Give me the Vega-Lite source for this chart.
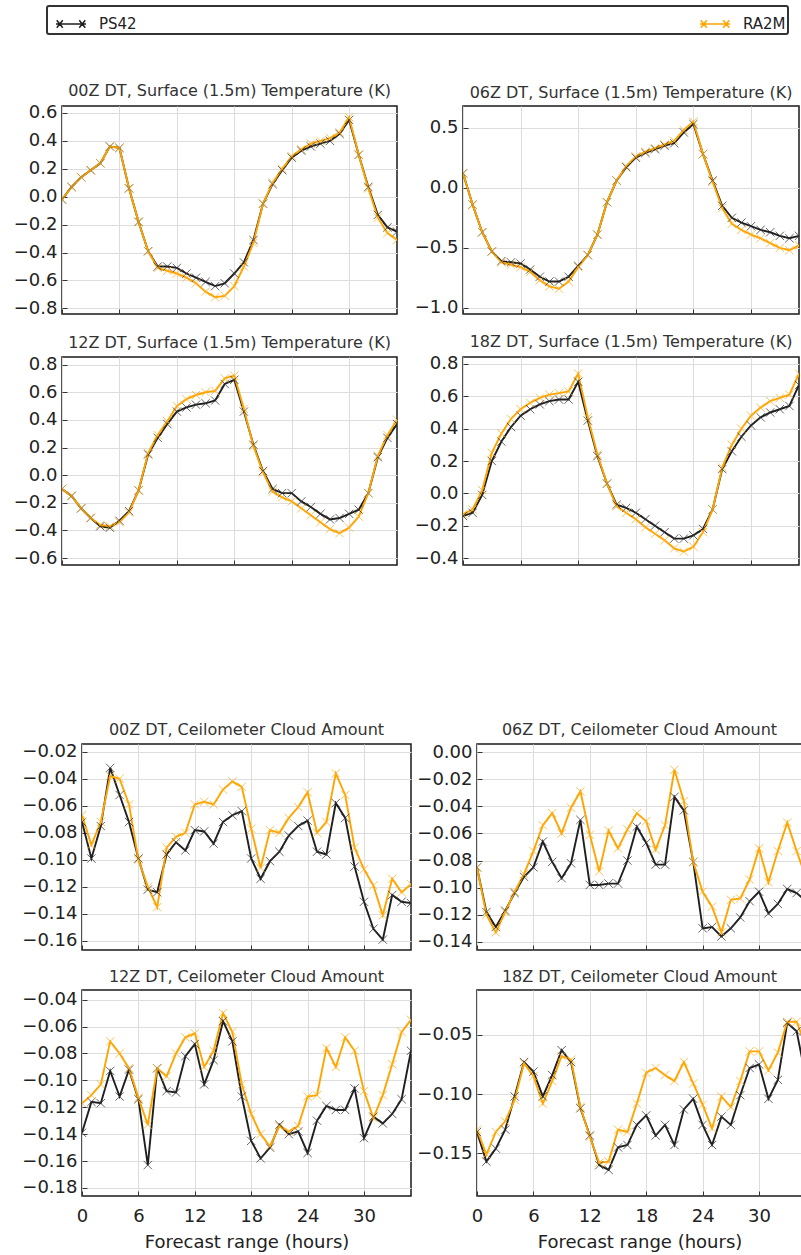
{
"$schema":"https://vega.github.io/schema/vega-lite/v6.json",
"padding":{"left":12,"top":5,"right":0,"bottom":0},
"background":"white",
"data":{"values":[
{"p":"T00","m":"PS42","h":0,"v":-0.02},{"p":"T00","m":"PS42","h":1,"v":0.07},{"p":"T00","m":"PS42","h":2,"v":0.14},{"p":"T00","m":"PS42","h":3,"v":0.19},{"p":"T00","m":"PS42","h":4,"v":0.24},{"p":"T00","m":"PS42","h":5,"v":0.36},{"p":"T00","m":"PS42","h":6,"v":0.35},{"p":"T00","m":"PS42","h":7,"v":0.06},{"p":"T00","m":"PS42","h":8,"v":-0.18},{"p":"T00","m":"PS42","h":9,"v":-0.39},{"p":"T00","m":"PS42","h":10,"v":-0.50},{"p":"T00","m":"PS42","h":11,"v":-0.50},{"p":"T00","m":"PS42","h":12,"v":-0.51},{"p":"T00","m":"PS42","h":13,"v":-0.55},{"p":"T00","m":"PS42","h":14,"v":-0.58},{"p":"T00","m":"PS42","h":15,"v":-0.61},{"p":"T00","m":"PS42","h":16,"v":-0.64},{"p":"T00","m":"PS42","h":17,"v":-0.62},{"p":"T00","m":"PS42","h":18,"v":-0.55},{"p":"T00","m":"PS42","h":19,"v":-0.47},{"p":"T00","m":"PS42","h":20,"v":-0.31},{"p":"T00","m":"PS42","h":21,"v":-0.05},{"p":"T00","m":"PS42","h":22,"v":0.09},{"p":"T00","m":"PS42","h":23,"v":0.19},{"p":"T00","m":"PS42","h":24,"v":0.28},{"p":"T00","m":"PS42","h":25,"v":0.33},{"p":"T00","m":"PS42","h":26,"v":0.36},{"p":"T00","m":"PS42","h":27,"v":0.38},{"p":"T00","m":"PS42","h":28,"v":0.40},{"p":"T00","m":"PS42","h":29,"v":0.45},{"p":"T00","m":"PS42","h":30,"v":0.55},{"p":"T00","m":"PS42","h":31,"v":0.30},{"p":"T00","m":"PS42","h":32,"v":0.07},{"p":"T00","m":"PS42","h":33,"v":-0.13},{"p":"T00","m":"PS42","h":34,"v":-0.22},{"p":"T00","m":"PS42","h":35,"v":-0.25},
{"p":"T00","m":"RA2M","h":0,"v":-0.02},{"p":"T00","m":"RA2M","h":1,"v":0.07},{"p":"T00","m":"RA2M","h":2,"v":0.14},{"p":"T00","m":"RA2M","h":3,"v":0.19},{"p":"T00","m":"RA2M","h":4,"v":0.24},{"p":"T00","m":"RA2M","h":5,"v":0.36},{"p":"T00","m":"RA2M","h":6,"v":0.35},{"p":"T00","m":"RA2M","h":7,"v":0.06},{"p":"T00","m":"RA2M","h":8,"v":-0.18},{"p":"T00","m":"RA2M","h":9,"v":-0.39},{"p":"T00","m":"RA2M","h":10,"v":-0.51},{"p":"T00","m":"RA2M","h":11,"v":-0.53},{"p":"T00","m":"RA2M","h":12,"v":-0.55},{"p":"T00","m":"RA2M","h":13,"v":-0.58},{"p":"T00","m":"RA2M","h":14,"v":-0.62},{"p":"T00","m":"RA2M","h":15,"v":-0.68},{"p":"T00","m":"RA2M","h":16,"v":-0.72},{"p":"T00","m":"RA2M","h":17,"v":-0.71},{"p":"T00","m":"RA2M","h":18,"v":-0.64},{"p":"T00","m":"RA2M","h":19,"v":-0.50},{"p":"T00","m":"RA2M","h":20,"v":-0.33},{"p":"T00","m":"RA2M","h":21,"v":-0.05},{"p":"T00","m":"RA2M","h":22,"v":0.10},{"p":"T00","m":"RA2M","h":23,"v":0.20},{"p":"T00","m":"RA2M","h":24,"v":0.29},{"p":"T00","m":"RA2M","h":25,"v":0.34},{"p":"T00","m":"RA2M","h":26,"v":0.38},{"p":"T00","m":"RA2M","h":27,"v":0.40},{"p":"T00","m":"RA2M","h":28,"v":0.42},{"p":"T00","m":"RA2M","h":29,"v":0.46},{"p":"T00","m":"RA2M","h":30,"v":0.57},{"p":"T00","m":"RA2M","h":31,"v":0.30},{"p":"T00","m":"RA2M","h":32,"v":0.06},{"p":"T00","m":"RA2M","h":33,"v":-0.15},{"p":"T00","m":"RA2M","h":34,"v":-0.26},{"p":"T00","m":"RA2M","h":35,"v":-0.31},
{"p":"T06","m":"PS42","h":0,"v":0.12},{"p":"T06","m":"PS42","h":1,"v":-0.14},{"p":"T06","m":"PS42","h":2,"v":-0.37},{"p":"T06","m":"PS42","h":3,"v":-0.53},{"p":"T06","m":"PS42","h":4,"v":-0.61},{"p":"T06","m":"PS42","h":5,"v":-0.62},{"p":"T06","m":"PS42","h":6,"v":-0.63},{"p":"T06","m":"PS42","h":7,"v":-0.68},{"p":"T06","m":"PS42","h":8,"v":-0.74},{"p":"T06","m":"PS42","h":9,"v":-0.78},{"p":"T06","m":"PS42","h":10,"v":-0.78},{"p":"T06","m":"PS42","h":11,"v":-0.74},{"p":"T06","m":"PS42","h":12,"v":-0.65},{"p":"T06","m":"PS42","h":13,"v":-0.56},{"p":"T06","m":"PS42","h":14,"v":-0.39},{"p":"T06","m":"PS42","h":15,"v":-0.12},{"p":"T06","m":"PS42","h":16,"v":0.06},{"p":"T06","m":"PS42","h":17,"v":0.17},{"p":"T06","m":"PS42","h":18,"v":0.25},{"p":"T06","m":"PS42","h":19,"v":0.29},{"p":"T06","m":"PS42","h":20,"v":0.32},{"p":"T06","m":"PS42","h":21,"v":0.35},{"p":"T06","m":"PS42","h":22,"v":0.37},{"p":"T06","m":"PS42","h":23,"v":0.46},{"p":"T06","m":"PS42","h":24,"v":0.53},{"p":"T06","m":"PS42","h":25,"v":0.28},{"p":"T06","m":"PS42","h":26,"v":0.06},{"p":"T06","m":"PS42","h":27,"v":-0.15},{"p":"T06","m":"PS42","h":28,"v":-0.25},{"p":"T06","m":"PS42","h":29,"v":-0.29},{"p":"T06","m":"PS42","h":30,"v":-0.32},{"p":"T06","m":"PS42","h":31,"v":-0.35},{"p":"T06","m":"PS42","h":32,"v":-0.37},{"p":"T06","m":"PS42","h":33,"v":-0.40},{"p":"T06","m":"PS42","h":34,"v":-0.42},{"p":"T06","m":"PS42","h":35,"v":-0.40},
{"p":"T06","m":"RA2M","h":0,"v":0.12},{"p":"T06","m":"RA2M","h":1,"v":-0.14},{"p":"T06","m":"RA2M","h":2,"v":-0.37},{"p":"T06","m":"RA2M","h":3,"v":-0.53},{"p":"T06","m":"RA2M","h":4,"v":-0.62},{"p":"T06","m":"RA2M","h":5,"v":-0.64},{"p":"T06","m":"RA2M","h":6,"v":-0.66},{"p":"T06","m":"RA2M","h":7,"v":-0.70},{"p":"T06","m":"RA2M","h":8,"v":-0.77},{"p":"T06","m":"RA2M","h":9,"v":-0.82},{"p":"T06","m":"RA2M","h":10,"v":-0.84},{"p":"T06","m":"RA2M","h":11,"v":-0.78},{"p":"T06","m":"RA2M","h":12,"v":-0.66},{"p":"T06","m":"RA2M","h":13,"v":-0.56},{"p":"T06","m":"RA2M","h":14,"v":-0.39},{"p":"T06","m":"RA2M","h":15,"v":-0.12},{"p":"T06","m":"RA2M","h":16,"v":0.06},{"p":"T06","m":"RA2M","h":17,"v":0.18},{"p":"T06","m":"RA2M","h":18,"v":0.26},{"p":"T06","m":"RA2M","h":19,"v":0.30},{"p":"T06","m":"RA2M","h":20,"v":0.33},{"p":"T06","m":"RA2M","h":21,"v":0.36},{"p":"T06","m":"RA2M","h":22,"v":0.39},{"p":"T06","m":"RA2M","h":23,"v":0.48},{"p":"T06","m":"RA2M","h":24,"v":0.55},{"p":"T06","m":"RA2M","h":25,"v":0.28},{"p":"T06","m":"RA2M","h":26,"v":0.05},{"p":"T06","m":"RA2M","h":27,"v":-0.17},{"p":"T06","m":"RA2M","h":28,"v":-0.30},{"p":"T06","m":"RA2M","h":29,"v":-0.35},{"p":"T06","m":"RA2M","h":30,"v":-0.39},{"p":"T06","m":"RA2M","h":31,"v":-0.42},{"p":"T06","m":"RA2M","h":32,"v":-0.46},{"p":"T06","m":"RA2M","h":33,"v":-0.50},{"p":"T06","m":"RA2M","h":34,"v":-0.52},{"p":"T06","m":"RA2M","h":35,"v":-0.48},
{"p":"T12","m":"PS42","h":0,"v":-0.10},{"p":"T12","m":"PS42","h":1,"v":-0.15},{"p":"T12","m":"PS42","h":2,"v":-0.24},{"p":"T12","m":"PS42","h":3,"v":-0.31},{"p":"T12","m":"PS42","h":4,"v":-0.37},{"p":"T12","m":"PS42","h":5,"v":-0.38},{"p":"T12","m":"PS42","h":6,"v":-0.33},{"p":"T12","m":"PS42","h":7,"v":-0.26},{"p":"T12","m":"PS42","h":8,"v":-0.11},{"p":"T12","m":"PS42","h":9,"v":0.15},{"p":"T12","m":"PS42","h":10,"v":0.27},{"p":"T12","m":"PS42","h":11,"v":0.37},{"p":"T12","m":"PS42","h":12,"v":0.46},{"p":"T12","m":"PS42","h":13,"v":0.49},{"p":"T12","m":"PS42","h":14,"v":0.51},{"p":"T12","m":"PS42","h":15,"v":0.52},{"p":"T12","m":"PS42","h":16,"v":0.54},{"p":"T12","m":"PS42","h":17,"v":0.66},{"p":"T12","m":"PS42","h":18,"v":0.69},{"p":"T12","m":"PS42","h":19,"v":0.46},{"p":"T12","m":"PS42","h":20,"v":0.22},{"p":"T12","m":"PS42","h":21,"v":0.03},{"p":"T12","m":"PS42","h":22,"v":-0.10},{"p":"T12","m":"PS42","h":23,"v":-0.13},{"p":"T12","m":"PS42","h":24,"v":-0.13},{"p":"T12","m":"PS42","h":25,"v":-0.19},{"p":"T12","m":"PS42","h":26,"v":-0.23},{"p":"T12","m":"PS42","h":27,"v":-0.28},{"p":"T12","m":"PS42","h":28,"v":-0.32},{"p":"T12","m":"PS42","h":29,"v":-0.31},{"p":"T12","m":"PS42","h":30,"v":-0.28},{"p":"T12","m":"PS42","h":31,"v":-0.25},{"p":"T12","m":"PS42","h":32,"v":-0.13},{"p":"T12","m":"PS42","h":33,"v":0.13},{"p":"T12","m":"PS42","h":34,"v":0.27},{"p":"T12","m":"PS42","h":35,"v":0.37},
{"p":"T12","m":"RA2M","h":0,"v":-0.10},{"p":"T12","m":"RA2M","h":1,"v":-0.15},{"p":"T12","m":"RA2M","h":2,"v":-0.24},{"p":"T12","m":"RA2M","h":3,"v":-0.31},{"p":"T12","m":"RA2M","h":4,"v":-0.36},{"p":"T12","m":"RA2M","h":5,"v":-0.37},{"p":"T12","m":"RA2M","h":6,"v":-0.34},{"p":"T12","m":"RA2M","h":7,"v":-0.27},{"p":"T12","m":"RA2M","h":8,"v":-0.11},{"p":"T12","m":"RA2M","h":9,"v":0.16},{"p":"T12","m":"RA2M","h":10,"v":0.29},{"p":"T12","m":"RA2M","h":11,"v":0.39},{"p":"T12","m":"RA2M","h":12,"v":0.50},{"p":"T12","m":"RA2M","h":13,"v":0.55},{"p":"T12","m":"RA2M","h":14,"v":0.58},{"p":"T12","m":"RA2M","h":15,"v":0.60},{"p":"T12","m":"RA2M","h":16,"v":0.61},{"p":"T12","m":"RA2M","h":17,"v":0.70},{"p":"T12","m":"RA2M","h":18,"v":0.72},{"p":"T12","m":"RA2M","h":19,"v":0.48},{"p":"T12","m":"RA2M","h":20,"v":0.21},{"p":"T12","m":"RA2M","h":21,"v":0.02},{"p":"T12","m":"RA2M","h":22,"v":-0.12},{"p":"T12","m":"RA2M","h":23,"v":-0.16},{"p":"T12","m":"RA2M","h":24,"v":-0.19},{"p":"T12","m":"RA2M","h":25,"v":-0.24},{"p":"T12","m":"RA2M","h":26,"v":-0.29},{"p":"T12","m":"RA2M","h":27,"v":-0.34},{"p":"T12","m":"RA2M","h":28,"v":-0.39},{"p":"T12","m":"RA2M","h":29,"v":-0.42},{"p":"T12","m":"RA2M","h":30,"v":-0.38},{"p":"T12","m":"RA2M","h":31,"v":-0.30},{"p":"T12","m":"RA2M","h":32,"v":-0.13},{"p":"T12","m":"RA2M","h":33,"v":0.14},{"p":"T12","m":"RA2M","h":34,"v":0.29},{"p":"T12","m":"RA2M","h":35,"v":0.40},
{"p":"T18","m":"PS42","h":0,"v":-0.14},{"p":"T18","m":"PS42","h":1,"v":-0.12},{"p":"T18","m":"PS42","h":2,"v":-0.01},{"p":"T18","m":"PS42","h":3,"v":0.20},{"p":"T18","m":"PS42","h":4,"v":0.32},{"p":"T18","m":"PS42","h":5,"v":0.41},{"p":"T18","m":"PS42","h":6,"v":0.48},{"p":"T18","m":"PS42","h":7,"v":0.52},{"p":"T18","m":"PS42","h":8,"v":0.55},{"p":"T18","m":"PS42","h":9,"v":0.57},{"p":"T18","m":"PS42","h":10,"v":0.58},{"p":"T18","m":"PS42","h":11,"v":0.58},{"p":"T18","m":"PS42","h":12,"v":0.69},{"p":"T18","m":"PS42","h":13,"v":0.45},{"p":"T18","m":"PS42","h":14,"v":0.23},{"p":"T18","m":"PS42","h":15,"v":0.06},{"p":"T18","m":"PS42","h":16,"v":-0.07},{"p":"T18","m":"PS42","h":17,"v":-0.09},{"p":"T18","m":"PS42","h":18,"v":-0.12},{"p":"T18","m":"PS42","h":19,"v":-0.16},{"p":"T18","m":"PS42","h":20,"v":-0.20},{"p":"T18","m":"PS42","h":21,"v":-0.24},{"p":"T18","m":"PS42","h":22,"v":-0.28},{"p":"T18","m":"PS42","h":23,"v":-0.28},{"p":"T18","m":"PS42","h":24,"v":-0.26},{"p":"T18","m":"PS42","h":25,"v":-0.22},{"p":"T18","m":"PS42","h":26,"v":-0.10},{"p":"T18","m":"PS42","h":27,"v":0.15},{"p":"T18","m":"PS42","h":28,"v":0.26},{"p":"T18","m":"PS42","h":29,"v":0.35},{"p":"T18","m":"PS42","h":30,"v":0.42},{"p":"T18","m":"PS42","h":31,"v":0.47},{"p":"T18","m":"PS42","h":32,"v":0.50},{"p":"T18","m":"PS42","h":33,"v":0.52},{"p":"T18","m":"PS42","h":34,"v":0.54},{"p":"T18","m":"PS42","h":35,"v":0.67},
{"p":"T18","m":"RA2M","h":0,"v":-0.13},{"p":"T18","m":"RA2M","h":1,"v":-0.10},{"p":"T18","m":"RA2M","h":2,"v":0.02},{"p":"T18","m":"RA2M","h":3,"v":0.25},{"p":"T18","m":"RA2M","h":4,"v":0.37},{"p":"T18","m":"RA2M","h":5,"v":0.46},{"p":"T18","m":"RA2M","h":6,"v":0.52},{"p":"T18","m":"RA2M","h":7,"v":0.56},{"p":"T18","m":"RA2M","h":8,"v":0.59},{"p":"T18","m":"RA2M","h":9,"v":0.61},{"p":"T18","m":"RA2M","h":10,"v":0.62},{"p":"T18","m":"RA2M","h":11,"v":0.63},{"p":"T18","m":"RA2M","h":12,"v":0.74},{"p":"T18","m":"RA2M","h":13,"v":0.47},{"p":"T18","m":"RA2M","h":14,"v":0.24},{"p":"T18","m":"RA2M","h":15,"v":0.06},{"p":"T18","m":"RA2M","h":16,"v":-0.08},{"p":"T18","m":"RA2M","h":17,"v":-0.12},{"p":"T18","m":"RA2M","h":18,"v":-0.16},{"p":"T18","m":"RA2M","h":19,"v":-0.21},{"p":"T18","m":"RA2M","h":20,"v":-0.25},{"p":"T18","m":"RA2M","h":21,"v":-0.29},{"p":"T18","m":"RA2M","h":22,"v":-0.34},{"p":"T18","m":"RA2M","h":23,"v":-0.36},{"p":"T18","m":"RA2M","h":24,"v":-0.33},{"p":"T18","m":"RA2M","h":25,"v":-0.24},{"p":"T18","m":"RA2M","h":26,"v":-0.10},{"p":"T18","m":"RA2M","h":27,"v":0.16},{"p":"T18","m":"RA2M","h":28,"v":0.30},{"p":"T18","m":"RA2M","h":29,"v":0.40},{"p":"T18","m":"RA2M","h":30,"v":0.48},{"p":"T18","m":"RA2M","h":31,"v":0.53},{"p":"T18","m":"RA2M","h":32,"v":0.57},{"p":"T18","m":"RA2M","h":33,"v":0.59},{"p":"T18","m":"RA2M","h":34,"v":0.61},{"p":"T18","m":"RA2M","h":35,"v":0.74},
{"p":"C00","m":"PS42","h":0,"v":-0.072},{"p":"C00","m":"PS42","h":1,"v":-0.099},{"p":"C00","m":"PS42","h":2,"v":-0.075},{"p":"C00","m":"PS42","h":3,"v":-0.032},{"p":"C00","m":"PS42","h":4,"v":-0.052},{"p":"C00","m":"PS42","h":5,"v":-0.072},{"p":"C00","m":"PS42","h":6,"v":-0.099},{"p":"C00","m":"PS42","h":7,"v":-0.122},{"p":"C00","m":"PS42","h":8,"v":-0.124},{"p":"C00","m":"PS42","h":9,"v":-0.096},{"p":"C00","m":"PS42","h":10,"v":-0.087},{"p":"C00","m":"PS42","h":11,"v":-0.093},{"p":"C00","m":"PS42","h":12,"v":-0.078},{"p":"C00","m":"PS42","h":13,"v":-0.079},{"p":"C00","m":"PS42","h":14,"v":-0.088},{"p":"C00","m":"PS42","h":15,"v":-0.072},{"p":"C00","m":"PS42","h":16,"v":-0.067},{"p":"C00","m":"PS42","h":17,"v":-0.064},{"p":"C00","m":"PS42","h":18,"v":-0.099},{"p":"C00","m":"PS42","h":19,"v":-0.114},{"p":"C00","m":"PS42","h":20,"v":-0.101},{"p":"C00","m":"PS42","h":21,"v":-0.094},{"p":"C00","m":"PS42","h":22,"v":-0.082},{"p":"C00","m":"PS42","h":23,"v":-0.075},{"p":"C00","m":"PS42","h":24,"v":-0.071},{"p":"C00","m":"PS42","h":25,"v":-0.094},{"p":"C00","m":"PS42","h":26,"v":-0.096},{"p":"C00","m":"PS42","h":27,"v":-0.058},{"p":"C00","m":"PS42","h":28,"v":-0.069},{"p":"C00","m":"PS42","h":29,"v":-0.105},{"p":"C00","m":"PS42","h":30,"v":-0.131},{"p":"C00","m":"PS42","h":31,"v":-0.151},{"p":"C00","m":"PS42","h":32,"v":-0.159},{"p":"C00","m":"PS42","h":33,"v":-0.126},{"p":"C00","m":"PS42","h":34,"v":-0.131},{"p":"C00","m":"PS42","h":35,"v":-0.132},
{"p":"C00","m":"RA2M","h":0,"v":-0.067},{"p":"C00","m":"RA2M","h":1,"v":-0.089},{"p":"C00","m":"RA2M","h":2,"v":-0.072},{"p":"C00","m":"RA2M","h":3,"v":-0.038},{"p":"C00","m":"RA2M","h":4,"v":-0.040},{"p":"C00","m":"RA2M","h":5,"v":-0.059},{"p":"C00","m":"RA2M","h":6,"v":-0.100},{"p":"C00","m":"RA2M","h":7,"v":-0.120},{"p":"C00","m":"RA2M","h":8,"v":-0.135},{"p":"C00","m":"RA2M","h":9,"v":-0.091},{"p":"C00","m":"RA2M","h":10,"v":-0.083},{"p":"C00","m":"RA2M","h":11,"v":-0.080},{"p":"C00","m":"RA2M","h":12,"v":-0.059},{"p":"C00","m":"RA2M","h":13,"v":-0.057},{"p":"C00","m":"RA2M","h":14,"v":-0.059},{"p":"C00","m":"RA2M","h":15,"v":-0.048},{"p":"C00","m":"RA2M","h":16,"v":-0.042},{"p":"C00","m":"RA2M","h":17,"v":-0.046},{"p":"C00","m":"RA2M","h":18,"v":-0.077},{"p":"C00","m":"RA2M","h":19,"v":-0.106},{"p":"C00","m":"RA2M","h":20,"v":-0.078},{"p":"C00","m":"RA2M","h":21,"v":-0.080},{"p":"C00","m":"RA2M","h":22,"v":-0.069},{"p":"C00","m":"RA2M","h":23,"v":-0.061},{"p":"C00","m":"RA2M","h":24,"v":-0.050},{"p":"C00","m":"RA2M","h":25,"v":-0.080},{"p":"C00","m":"RA2M","h":26,"v":-0.072},{"p":"C00","m":"RA2M","h":27,"v":-0.036},{"p":"C00","m":"RA2M","h":28,"v":-0.052},{"p":"C00","m":"RA2M","h":29,"v":-0.091},{"p":"C00","m":"RA2M","h":30,"v":-0.107},{"p":"C00","m":"RA2M","h":31,"v":-0.119},{"p":"C00","m":"RA2M","h":32,"v":-0.141},{"p":"C00","m":"RA2M","h":33,"v":-0.114},{"p":"C00","m":"RA2M","h":34,"v":-0.124},{"p":"C00","m":"RA2M","h":35,"v":-0.118},
{"p":"C06","m":"PS42","h":0,"v":-0.085},{"p":"C06","m":"PS42","h":1,"v":-0.118},{"p":"C06","m":"PS42","h":2,"v":-0.129},{"p":"C06","m":"PS42","h":3,"v":-0.117},{"p":"C06","m":"PS42","h":4,"v":-0.104},{"p":"C06","m":"PS42","h":5,"v":-0.092},{"p":"C06","m":"PS42","h":6,"v":-0.085},{"p":"C06","m":"PS42","h":7,"v":-0.066},{"p":"C06","m":"PS42","h":8,"v":-0.081},{"p":"C06","m":"PS42","h":9,"v":-0.093},{"p":"C06","m":"PS42","h":10,"v":-0.082},{"p":"C06","m":"PS42","h":11,"v":-0.050},{"p":"C06","m":"PS42","h":12,"v":-0.098},{"p":"C06","m":"PS42","h":13,"v":-0.098},{"p":"C06","m":"PS42","h":14,"v":-0.097},{"p":"C06","m":"PS42","h":15,"v":-0.097},{"p":"C06","m":"PS42","h":16,"v":-0.080},{"p":"C06","m":"PS42","h":17,"v":-0.055},{"p":"C06","m":"PS42","h":18,"v":-0.067},{"p":"C06","m":"PS42","h":19,"v":-0.083},{"p":"C06","m":"PS42","h":20,"v":-0.083},{"p":"C06","m":"PS42","h":21,"v":-0.033},{"p":"C06","m":"PS42","h":22,"v":-0.043},{"p":"C06","m":"PS42","h":23,"v":-0.081},{"p":"C06","m":"PS42","h":24,"v":-0.130},{"p":"C06","m":"PS42","h":25,"v":-0.129},{"p":"C06","m":"PS42","h":26,"v":-0.136},{"p":"C06","m":"PS42","h":27,"v":-0.130},{"p":"C06","m":"PS42","h":28,"v":-0.122},{"p":"C06","m":"PS42","h":29,"v":-0.110},{"p":"C06","m":"PS42","h":30,"v":-0.103},{"p":"C06","m":"PS42","h":31,"v":-0.119},{"p":"C06","m":"PS42","h":32,"v":-0.112},{"p":"C06","m":"PS42","h":33,"v":-0.101},{"p":"C06","m":"PS42","h":34,"v":-0.104},{"p":"C06","m":"PS42","h":35,"v":-0.110},
{"p":"C06","m":"RA2M","h":0,"v":-0.085},{"p":"C06","m":"RA2M","h":1,"v":-0.120},{"p":"C06","m":"RA2M","h":2,"v":-0.133},{"p":"C06","m":"RA2M","h":3,"v":-0.118},{"p":"C06","m":"RA2M","h":4,"v":-0.103},{"p":"C06","m":"RA2M","h":5,"v":-0.090},{"p":"C06","m":"RA2M","h":6,"v":-0.073},{"p":"C06","m":"RA2M","h":7,"v":-0.054},{"p":"C06","m":"RA2M","h":8,"v":-0.045},{"p":"C06","m":"RA2M","h":9,"v":-0.060},{"p":"C06","m":"RA2M","h":10,"v":-0.041},{"p":"C06","m":"RA2M","h":11,"v":-0.029},{"p":"C06","m":"RA2M","h":12,"v":-0.061},{"p":"C06","m":"RA2M","h":13,"v":-0.088},{"p":"C06","m":"RA2M","h":14,"v":-0.058},{"p":"C06","m":"RA2M","h":15,"v":-0.071},{"p":"C06","m":"RA2M","h":16,"v":-0.057},{"p":"C06","m":"RA2M","h":17,"v":-0.045},{"p":"C06","m":"RA2M","h":18,"v":-0.051},{"p":"C06","m":"RA2M","h":19,"v":-0.072},{"p":"C06","m":"RA2M","h":20,"v":-0.054},{"p":"C06","m":"RA2M","h":21,"v":-0.013},{"p":"C06","m":"RA2M","h":22,"v":-0.036},{"p":"C06","m":"RA2M","h":23,"v":-0.081},{"p":"C06","m":"RA2M","h":24,"v":-0.103},{"p":"C06","m":"RA2M","h":25,"v":-0.114},{"p":"C06","m":"RA2M","h":26,"v":-0.133},{"p":"C06","m":"RA2M","h":27,"v":-0.109},{"p":"C06","m":"RA2M","h":28,"v":-0.108},{"p":"C06","m":"RA2M","h":29,"v":-0.094},{"p":"C06","m":"RA2M","h":30,"v":-0.071},{"p":"C06","m":"RA2M","h":31,"v":-0.096},{"p":"C06","m":"RA2M","h":32,"v":-0.073},{"p":"C06","m":"RA2M","h":33,"v":-0.052},{"p":"C06","m":"RA2M","h":34,"v":-0.073},{"p":"C06","m":"RA2M","h":35,"v":-0.093},
{"p":"C12","m":"PS42","h":0,"v":-0.139},{"p":"C12","m":"PS42","h":1,"v":-0.116},{"p":"C12","m":"PS42","h":2,"v":-0.117},{"p":"C12","m":"PS42","h":3,"v":-0.093},{"p":"C12","m":"PS42","h":4,"v":-0.112},{"p":"C12","m":"PS42","h":5,"v":-0.092},{"p":"C12","m":"PS42","h":6,"v":-0.114},{"p":"C12","m":"PS42","h":7,"v":-0.163},{"p":"C12","m":"PS42","h":8,"v":-0.091},{"p":"C12","m":"PS42","h":9,"v":-0.108},{"p":"C12","m":"PS42","h":10,"v":-0.109},{"p":"C12","m":"PS42","h":11,"v":-0.082},{"p":"C12","m":"PS42","h":12,"v":-0.073},{"p":"C12","m":"PS42","h":13,"v":-0.103},{"p":"C12","m":"PS42","h":14,"v":-0.085},{"p":"C12","m":"PS42","h":15,"v":-0.056},{"p":"C12","m":"PS42","h":16,"v":-0.071},{"p":"C12","m":"PS42","h":17,"v":-0.112},{"p":"C12","m":"PS42","h":18,"v":-0.145},{"p":"C12","m":"PS42","h":19,"v":-0.158},{"p":"C12","m":"PS42","h":20,"v":-0.150},{"p":"C12","m":"PS42","h":21,"v":-0.133},{"p":"C12","m":"PS42","h":22,"v":-0.140},{"p":"C12","m":"PS42","h":23,"v":-0.138},{"p":"C12","m":"PS42","h":24,"v":-0.154},{"p":"C12","m":"PS42","h":25,"v":-0.130},{"p":"C12","m":"PS42","h":26,"v":-0.119},{"p":"C12","m":"PS42","h":27,"v":-0.122},{"p":"C12","m":"PS42","h":28,"v":-0.122},{"p":"C12","m":"PS42","h":29,"v":-0.106},{"p":"C12","m":"PS42","h":30,"v":-0.143},{"p":"C12","m":"PS42","h":31,"v":-0.127},{"p":"C12","m":"PS42","h":32,"v":-0.132},{"p":"C12","m":"PS42","h":33,"v":-0.125},{"p":"C12","m":"PS42","h":34,"v":-0.114},{"p":"C12","m":"PS42","h":35,"v":-0.078},
{"p":"C12","m":"RA2M","h":0,"v":-0.117},{"p":"C12","m":"RA2M","h":1,"v":-0.111},{"p":"C12","m":"RA2M","h":2,"v":-0.103},{"p":"C12","m":"RA2M","h":3,"v":-0.071},{"p":"C12","m":"RA2M","h":4,"v":-0.080},{"p":"C12","m":"RA2M","h":5,"v":-0.091},{"p":"C12","m":"RA2M","h":6,"v":-0.113},{"p":"C12","m":"RA2M","h":7,"v":-0.133},{"p":"C12","m":"RA2M","h":8,"v":-0.091},{"p":"C12","m":"RA2M","h":9,"v":-0.097},{"p":"C12","m":"RA2M","h":10,"v":-0.080},{"p":"C12","m":"RA2M","h":11,"v":-0.068},{"p":"C12","m":"RA2M","h":12,"v":-0.065},{"p":"C12","m":"RA2M","h":13,"v":-0.090},{"p":"C12","m":"RA2M","h":14,"v":-0.078},{"p":"C12","m":"RA2M","h":15,"v":-0.050},{"p":"C12","m":"RA2M","h":16,"v":-0.064},{"p":"C12","m":"RA2M","h":17,"v":-0.103},{"p":"C12","m":"RA2M","h":18,"v":-0.125},{"p":"C12","m":"RA2M","h":19,"v":-0.140},{"p":"C12","m":"RA2M","h":20,"v":-0.149},{"p":"C12","m":"RA2M","h":21,"v":-0.134},{"p":"C12","m":"RA2M","h":22,"v":-0.138},{"p":"C12","m":"RA2M","h":23,"v":-0.134},{"p":"C12","m":"RA2M","h":24,"v":-0.112},{"p":"C12","m":"RA2M","h":25,"v":-0.111},{"p":"C12","m":"RA2M","h":26,"v":-0.076},{"p":"C12","m":"RA2M","h":27,"v":-0.090},{"p":"C12","m":"RA2M","h":28,"v":-0.068},{"p":"C12","m":"RA2M","h":29,"v":-0.078},{"p":"C12","m":"RA2M","h":30,"v":-0.108},{"p":"C12","m":"RA2M","h":31,"v":-0.128},{"p":"C12","m":"RA2M","h":32,"v":-0.111},{"p":"C12","m":"RA2M","h":33,"v":-0.088},{"p":"C12","m":"RA2M","h":34,"v":-0.064},{"p":"C12","m":"RA2M","h":35,"v":-0.055},
{"p":"C18","m":"PS42","h":0,"v":-0.132},{"p":"C18","m":"PS42","h":1,"v":-0.157},{"p":"C18","m":"PS42","h":2,"v":-0.146},{"p":"C18","m":"PS42","h":3,"v":-0.130},{"p":"C18","m":"PS42","h":4,"v":-0.102},{"p":"C18","m":"PS42","h":5,"v":-0.073},{"p":"C18","m":"PS42","h":6,"v":-0.081},{"p":"C18","m":"PS42","h":7,"v":-0.102},{"p":"C18","m":"PS42","h":8,"v":-0.084},{"p":"C18","m":"PS42","h":9,"v":-0.063},{"p":"C18","m":"PS42","h":10,"v":-0.073},{"p":"C18","m":"PS42","h":11,"v":-0.112},{"p":"C18","m":"PS42","h":12,"v":-0.135},{"p":"C18","m":"PS42","h":13,"v":-0.160},{"p":"C18","m":"PS42","h":14,"v":-0.164},{"p":"C18","m":"PS42","h":15,"v":-0.145},{"p":"C18","m":"PS42","h":16,"v":-0.143},{"p":"C18","m":"PS42","h":17,"v":-0.126},{"p":"C18","m":"PS42","h":18,"v":-0.118},{"p":"C18","m":"PS42","h":19,"v":-0.135},{"p":"C18","m":"PS42","h":20,"v":-0.126},{"p":"C18","m":"PS42","h":21,"v":-0.143},{"p":"C18","m":"PS42","h":22,"v":-0.113},{"p":"C18","m":"PS42","h":23,"v":-0.104},{"p":"C18","m":"PS42","h":24,"v":-0.126},{"p":"C18","m":"PS42","h":25,"v":-0.143},{"p":"C18","m":"PS42","h":26,"v":-0.119},{"p":"C18","m":"PS42","h":27,"v":-0.126},{"p":"C18","m":"PS42","h":28,"v":-0.101},{"p":"C18","m":"PS42","h":29,"v":-0.078},{"p":"C18","m":"PS42","h":30,"v":-0.075},{"p":"C18","m":"PS42","h":31,"v":-0.104},{"p":"C18","m":"PS42","h":32,"v":-0.088},{"p":"C18","m":"PS42","h":33,"v":-0.040},{"p":"C18","m":"PS42","h":34,"v":-0.047},{"p":"C18","m":"PS42","h":35,"v":-0.087},
{"p":"C18","m":"RA2M","h":0,"v":-0.130},{"p":"C18","m":"RA2M","h":1,"v":-0.151},{"p":"C18","m":"RA2M","h":2,"v":-0.132},{"p":"C18","m":"RA2M","h":3,"v":-0.123},{"p":"C18","m":"RA2M","h":4,"v":-0.105},{"p":"C18","m":"RA2M","h":5,"v":-0.074},{"p":"C18","m":"RA2M","h":6,"v":-0.085},{"p":"C18","m":"RA2M","h":7,"v":-0.108},{"p":"C18","m":"RA2M","h":8,"v":-0.089},{"p":"C18","m":"RA2M","h":9,"v":-0.068},{"p":"C18","m":"RA2M","h":10,"v":-0.071},{"p":"C18","m":"RA2M","h":11,"v":-0.111},{"p":"C18","m":"RA2M","h":12,"v":-0.136},{"p":"C18","m":"RA2M","h":13,"v":-0.158},{"p":"C18","m":"RA2M","h":14,"v":-0.157},{"p":"C18","m":"RA2M","h":15,"v":-0.130},{"p":"C18","m":"RA2M","h":16,"v":-0.132},{"p":"C18","m":"RA2M","h":17,"v":-0.108},{"p":"C18","m":"RA2M","h":18,"v":-0.082},{"p":"C18","m":"RA2M","h":19,"v":-0.078},{"p":"C18","m":"RA2M","h":20,"v":-0.084},{"p":"C18","m":"RA2M","h":21,"v":-0.089},{"p":"C18","m":"RA2M","h":22,"v":-0.073},{"p":"C18","m":"RA2M","h":23,"v":-0.091},{"p":"C18","m":"RA2M","h":24,"v":-0.109},{"p":"C18","m":"RA2M","h":25,"v":-0.129},{"p":"C18","m":"RA2M","h":26,"v":-0.102},{"p":"C18","m":"RA2M","h":27,"v":-0.111},{"p":"C18","m":"RA2M","h":28,"v":-0.089},{"p":"C18","m":"RA2M","h":29,"v":-0.064},{"p":"C18","m":"RA2M","h":30,"v":-0.064},{"p":"C18","m":"RA2M","h":31,"v":-0.080},{"p":"C18","m":"RA2M","h":32,"v":-0.065},{"p":"C18","m":"RA2M","h":33,"v":-0.039},{"p":"C18","m":"RA2M","h":34,"v":-0.039},{"p":"C18","m":"RA2M","h":35,"v":-0.060}
]},
"spacing":152,
"vconcat":[
{"spacing":14,"vconcat":[
 {"spacing":66,"bounds":"flush","hconcat":[
  {"width":335,"height":208,"title":"00Z DT, Surface (1.5m) Temperature (K)","transform":[{"filter":"datum.p == 'T00'"}],
   "encoding":{"x":{"field":"h","type":"quantitative","scale":{"domain":[0,35],"nice":false,"zero":false},"axis":{"values":[0,6,12,18,24,30],"labels":false,"title":null}},
     "y":{"field":"v","type":"quantitative","scale":{"domain":[-0.84,0.65],"nice":false,"zero":false},"axis":{"values":[-0.8,-0.6,-0.4,-0.2,0,0.2,0.4,0.6],"format":".1f","title":null}}},
   "layer":[
    {"data":{"values":[{}]},"mark":{"type":"rule","strokeWidth":2,"clip":true},"encoding":{"x":{"datum":0},"x2":{"datum":35},"y":{"datum":0},"color":{"value":"#c8c8c8"}}},
    {"mark":{"type":"line","strokeWidth":1.9,"clip":true},"encoding":{"color":{"field":"m","type":"nominal","scale":{"domain":["PS42","RA2M"],"range":["#1f1f1f","#ffa500"]},"legend":{"orient":"none","legendX":-15,"legendY":-100,"direction":"horizontal","columns":2,"title":null,"symbolType":"M-0.6,0L1.4,0M-0.55,-0.25L-0.15,0.25M-0.55,0.25L-0.15,-0.25M0.95,-0.25L1.35,0.25M0.95,0.25L1.35,-0.25"}}}},
    {"mark":{"type":"point","shape":"M-1,-1L1,1M-1,1L1,-1","size":70,"strokeWidth":1,"filled":false,"clip":true,"opacity":0.75},"encoding":{"stroke":{"field":"m","type":"nominal","scale":{"domain":["PS42","RA2M"],"range":["#333333","#ffb020"]},"legend":null}}}
   ]},
  {"width":336,"height":208,"title":"06Z DT, Surface (1.5m) Temperature (K)","transform":[{"filter":"datum.p == 'T06'"}],
   "encoding":{"x":{"field":"h","type":"quantitative","scale":{"domain":[0,35],"nice":false,"zero":false},"axis":{"values":[0,6,12,18,24,30],"labels":false,"title":null}},
     "y":{"field":"v","type":"quantitative","scale":{"domain":[-1.05,0.68],"nice":false,"zero":false},"axis":{"values":[-1,-0.5,0,0.5],"format":".1f","title":null}}},
   "layer":[
    {"data":{"values":[{}]},"mark":{"type":"rule","strokeWidth":2,"clip":true},"encoding":{"x":{"datum":0},"x2":{"datum":35},"y":{"datum":0},"color":{"value":"#c8c8c8"}}},
    {"mark":{"type":"line","strokeWidth":1.9,"clip":true},"encoding":{"color":{"field":"m","type":"nominal","scale":{"domain":["PS42","RA2M"],"range":["#1f1f1f","#ffa500"]},"legend":{"orient":"none","legendX":-15,"legendY":-100,"direction":"horizontal","columns":2,"title":null,"symbolType":"M-0.6,0L1.4,0M-0.55,-0.25L-0.15,0.25M-0.55,0.25L-0.15,-0.25M0.95,-0.25L1.35,0.25M0.95,0.25L1.35,-0.25"}}}},
    {"mark":{"type":"point","shape":"M-1,-1L1,1M-1,1L1,-1","size":70,"strokeWidth":1,"filled":false,"clip":true,"opacity":0.75},"encoding":{"stroke":{"field":"m","type":"nominal","scale":{"domain":["PS42","RA2M"],"range":["#333333","#ffb020"]},"legend":null}}}
   ]}
 ]},
 {"spacing":66,"bounds":"flush","hconcat":[
  {"width":335,"height":208,"title":"12Z DT, Surface (1.5m) Temperature (K)","transform":[{"filter":"datum.p == 'T12'"}],
   "encoding":{"x":{"field":"h","type":"quantitative","scale":{"domain":[0,35],"nice":false,"zero":false},"axis":{"values":[0,6,12,18,24,30],"labels":false,"title":null}},
     "y":{"field":"v","type":"quantitative","scale":{"domain":[-0.65,0.855],"nice":false,"zero":false},"axis":{"values":[-0.6,-0.4,-0.2,0,0.2,0.4,0.6,0.8],"format":".1f","title":null}}},
   "layer":[
    {"data":{"values":[{}]},"mark":{"type":"rule","strokeWidth":2,"clip":true},"encoding":{"x":{"datum":0},"x2":{"datum":35},"y":{"datum":0},"color":{"value":"#c8c8c8"}}},
    {"mark":{"type":"line","strokeWidth":1.9,"clip":true},"encoding":{"color":{"field":"m","type":"nominal","scale":{"domain":["PS42","RA2M"],"range":["#1f1f1f","#ffa500"]},"legend":{"orient":"none","legendX":-15,"legendY":-100,"direction":"horizontal","columns":2,"title":null,"symbolType":"M-0.6,0L1.4,0M-0.55,-0.25L-0.15,0.25M-0.55,0.25L-0.15,-0.25M0.95,-0.25L1.35,0.25M0.95,0.25L1.35,-0.25"}}}},
    {"mark":{"type":"point","shape":"M-1,-1L1,1M-1,1L1,-1","size":70,"strokeWidth":1,"filled":false,"clip":true,"opacity":0.75},"encoding":{"stroke":{"field":"m","type":"nominal","scale":{"domain":["PS42","RA2M"],"range":["#333333","#ffb020"]},"legend":null}}}
   ]},
  {"width":336,"height":208,"title":"18Z DT, Surface (1.5m) Temperature (K)","transform":[{"filter":"datum.p == 'T18'"}],
   "encoding":{"x":{"field":"h","type":"quantitative","scale":{"domain":[0,35],"nice":false,"zero":false},"axis":{"values":[0,6,12,18,24,30],"labels":false,"title":null}},
     "y":{"field":"v","type":"quantitative","scale":{"domain":[-0.443,0.843],"nice":false,"zero":false},"axis":{"values":[-0.4,-0.2,0,0.2,0.4,0.6,0.8],"format":".1f","title":null}}},
   "layer":[
    {"data":{"values":[{}]},"mark":{"type":"rule","strokeWidth":2,"clip":true},"encoding":{"x":{"datum":0},"x2":{"datum":35},"y":{"datum":0},"color":{"value":"#c8c8c8"}}},
    {"mark":{"type":"line","strokeWidth":1.9,"clip":true},"encoding":{"color":{"field":"m","type":"nominal","scale":{"domain":["PS42","RA2M"],"range":["#1f1f1f","#ffa500"]},"legend":{"orient":"none","legendX":-15,"legendY":-100,"direction":"horizontal","columns":2,"title":null,"symbolType":"M-0.6,0L1.4,0M-0.55,-0.25L-0.15,0.25M-0.55,0.25L-0.15,-0.25M0.95,-0.25L1.35,0.25M0.95,0.25L1.35,-0.25"}}}},
    {"mark":{"type":"point","shape":"M-1,-1L1,1M-1,1L1,-1","size":70,"strokeWidth":1,"filled":false,"clip":true,"opacity":0.75},"encoding":{"stroke":{"field":"m","type":"nominal","scale":{"domain":["PS42","RA2M"],"range":["#333333","#ffb020"]},"legend":null}}}
   ]}
 ]}
]},
{"spacing":19,"bounds":"flush","hconcat":[
 {"data":{"values":[]},"mark":{"type":"point"},"width":1,"height":1,"view":{"stroke":null}},
 {"spacing":16,"vconcat":[
 {"spacing":66,"bounds":"flush","hconcat":[
  {"width":329,"height":206,"title":"00Z DT, Ceilometer Cloud Amount","transform":[{"filter":"datum.p == 'C00'"}],
   "encoding":{"x":{"field":"h","type":"quantitative","scale":{"domain":[0,35],"nice":false,"zero":false},"axis":{"values":[0,6,12,18,24,30],"labels":false,"title":null}},
     "y":{"field":"v","type":"quantitative","scale":{"domain":[-0.1667,-0.0143],"nice":false,"zero":false},"axis":{"values":[-0.16,-0.14,-0.12,-0.1,-0.08,-0.06,-0.04,-0.02],"format":".2f","title":null}}},
   "layer":[
    {"data":{"values":[{}]},"mark":{"type":"rule","strokeWidth":2,"clip":true},"encoding":{"x":{"datum":0},"x2":{"datum":35},"y":{"datum":0},"color":{"value":"#c8c8c8"}}},
    {"mark":{"type":"line","strokeWidth":1.9,"clip":true},"encoding":{"color":{"field":"m","type":"nominal","scale":{"domain":["PS42","RA2M"],"range":["#1f1f1f","#ffa500"]},"legend":{"orient":"none","legendX":-15,"legendY":-100,"direction":"horizontal","columns":2,"title":null,"symbolType":"M-0.6,0L1.4,0M-0.55,-0.25L-0.15,0.25M-0.55,0.25L-0.15,-0.25M0.95,-0.25L1.35,0.25M0.95,0.25L1.35,-0.25"}}}},
    {"mark":{"type":"point","shape":"M-1,-1L1,1M-1,1L1,-1","size":70,"strokeWidth":1,"filled":false,"clip":true,"opacity":0.75},"encoding":{"stroke":{"field":"m","type":"nominal","scale":{"domain":["PS42","RA2M"],"range":["#333333","#ffb020"]},"legend":null}}}
   ]},
  {"width":325,"height":206,"title":"06Z DT, Ceilometer Cloud Amount","transform":[{"filter":"datum.p == 'C06'"}],
   "encoding":{"x":{"field":"h","type":"quantitative","scale":{"domain":[0,34.57],"nice":false,"zero":false},"axis":{"values":[0,6,12,18,24,30],"labels":false,"title":null}},
     "y":{"field":"v","type":"quantitative","scale":{"domain":[-0.146,0.006],"nice":false,"zero":false},"axis":{"values":[-0.14,-0.12,-0.1,-0.08,-0.06,-0.04,-0.02,0],"format":".2f","title":null}}},
   "layer":[
    {"data":{"values":[{}]},"mark":{"type":"rule","strokeWidth":2,"clip":true},"encoding":{"x":{"datum":0},"x2":{"datum":35},"y":{"datum":0},"color":{"value":"#c8c8c8"}}},
    {"mark":{"type":"line","strokeWidth":1.9,"clip":true},"encoding":{"color":{"field":"m","type":"nominal","scale":{"domain":["PS42","RA2M"],"range":["#1f1f1f","#ffa500"]},"legend":{"orient":"none","legendX":-15,"legendY":-100,"direction":"horizontal","columns":2,"title":null,"symbolType":"M-0.6,0L1.4,0M-0.55,-0.25L-0.15,0.25M-0.55,0.25L-0.15,-0.25M0.95,-0.25L1.35,0.25M0.95,0.25L1.35,-0.25"}}}},
    {"mark":{"type":"point","shape":"M-1,-1L1,1M-1,1L1,-1","size":70,"strokeWidth":1,"filled":false,"clip":true,"opacity":0.75},"encoding":{"stroke":{"field":"m","type":"nominal","scale":{"domain":["PS42","RA2M"],"range":["#333333","#ffb020"]},"legend":null}}}
   ]}
 ]},
 {"spacing":66,"bounds":"flush","hconcat":[
  {"width":329,"height":206,"title":"12Z DT, Ceilometer Cloud Amount","transform":[{"filter":"datum.p == 'C12'"}],
   "encoding":{"x":{"field":"h","type":"quantitative","scale":{"domain":[0,35],"nice":false,"zero":false},"axis":{"values":[0,6,12,18,24,30],"title":"Forecast range (hours)","labelFlush":false}},
     "y":{"field":"v","type":"quantitative","scale":{"domain":[-0.186,-0.0328],"nice":false,"zero":false},"axis":{"values":[-0.18,-0.16,-0.14,-0.12,-0.1,-0.08,-0.06,-0.04],"format":".2f","title":null}}},
   "layer":[
    {"data":{"values":[{}]},"mark":{"type":"rule","strokeWidth":2,"clip":true},"encoding":{"x":{"datum":0},"x2":{"datum":35},"y":{"datum":0},"color":{"value":"#c8c8c8"}}},
    {"mark":{"type":"line","strokeWidth":1.9,"clip":true},"encoding":{"color":{"field":"m","type":"nominal","scale":{"domain":["PS42","RA2M"],"range":["#1f1f1f","#ffa500"]},"legend":{"orient":"none","legendX":-15,"legendY":-100,"direction":"horizontal","columns":2,"title":null,"symbolType":"M-0.6,0L1.4,0M-0.55,-0.25L-0.15,0.25M-0.55,0.25L-0.15,-0.25M0.95,-0.25L1.35,0.25M0.95,0.25L1.35,-0.25"}}}},
    {"mark":{"type":"point","shape":"M-1,-1L1,1M-1,1L1,-1","size":70,"strokeWidth":1,"filled":false,"clip":true,"opacity":0.75},"encoding":{"stroke":{"field":"m","type":"nominal","scale":{"domain":["PS42","RA2M"],"range":["#333333","#ffb020"]},"legend":null}}}
   ]},
  {"width":325,"height":206,"title":"18Z DT, Ceilometer Cloud Amount","transform":[{"filter":"datum.p == 'C18'"}],
   "encoding":{"x":{"field":"h","type":"quantitative","scale":{"domain":[0,34.57],"nice":false,"zero":false},"axis":{"values":[0,6,12,18,24,30],"title":"Forecast range (hours)","labelFlush":false}},
     "y":{"field":"v","type":"quantitative","scale":{"domain":[-0.186,-0.0122],"nice":false,"zero":false},"axis":{"values":[-0.15,-0.1,-0.05],"format":".2f","title":null}}},
   "layer":[
    {"data":{"values":[{}]},"mark":{"type":"rule","strokeWidth":2,"clip":true},"encoding":{"x":{"datum":0},"x2":{"datum":35},"y":{"datum":0},"color":{"value":"#c8c8c8"}}},
    {"mark":{"type":"line","strokeWidth":1.9,"clip":true},"encoding":{"color":{"field":"m","type":"nominal","scale":{"domain":["PS42","RA2M"],"range":["#1f1f1f","#ffa500"]},"legend":{"orient":"none","legendX":-15,"legendY":-100,"direction":"horizontal","columns":2,"title":null,"symbolType":"M-0.6,0L1.4,0M-0.55,-0.25L-0.15,0.25M-0.55,0.25L-0.15,-0.25M0.95,-0.25L1.35,0.25M0.95,0.25L1.35,-0.25"}}}},
    {"mark":{"type":"point","shape":"M-1,-1L1,1M-1,1L1,-1","size":70,"strokeWidth":1,"filled":false,"clip":true,"opacity":0.75},"encoding":{"stroke":{"field":"m","type":"nominal","scale":{"domain":["PS42","RA2M"],"range":["#333333","#ffb020"]},"legend":null}}}
   ]}
 ]}
 ]}
]}
],
"config":{
 "font":"DejaVu Sans",
 "view":{"stroke":"#1a1a1a","strokeWidth":1.5},
 "title":{"font":"DejaVu Sans","fontSize":16,"fontWeight":"normal","color":"#333333","offset":5},
 "axis":{"labelFont":"DejaVu Sans","labelFontSize":18,"labelColor":"#222222","gridColor":"#dddddd","gridWidth":1,"domain":false,"ticks":true,"tickSize":-5,"tickColor":"#333333","labelPadding":10,"titleFont":"DejaVu Sans","titleFontSize":18,"titleFontWeight":"normal","titleColor":"#222222","titlePadding":8},
 "axisX":{"labelPadding":16},
 "legend":{"padding":2,"strokeColor":"#333333","strokeWidth":2,"cornerRadius":2,"fillColor":"white","labelFont":"DejaVu Sans","labelFontSize":15,"labelColor":"#222222","labelOffset":18,"symbolSize":900,"symbolStrokeWidth":1.5,"symbolFillColor":"transparent","columnPadding":556}
}
}
